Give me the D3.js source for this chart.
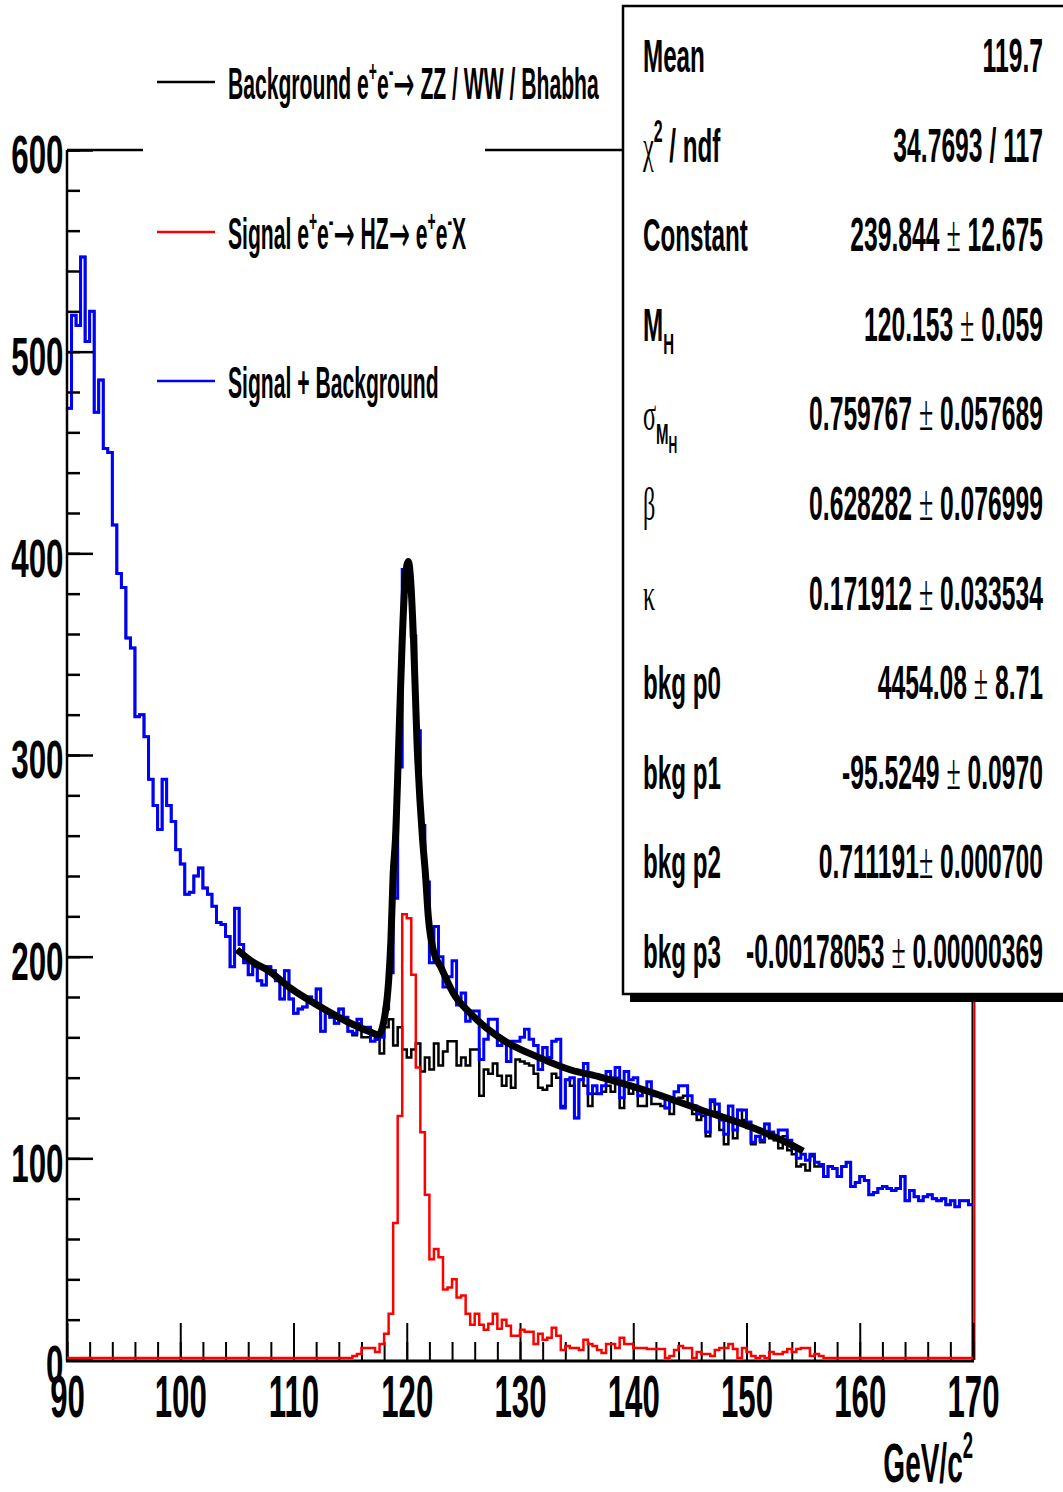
<!DOCTYPE html>
<html><head><meta charset="utf-8">
<script src="https://cdn.jsdelivr.net/npm/d3@7"></script>
<style>body{margin:0;background:#fff}svg{display:block}</style>
</head><body>
<svg id="c" width="1063" height="1492"></svg>
<script>
// ---------------- data ----------------
const binLow = 90, binWidth = 0.4;
// Signal + Background (blue)
const totalCounts = [
472,518,513,547,505,520,470,486,452,450,
414,390,383,358,353,319,320,309,288,275,
263,288,275,267,253,246,231,232,240,244,
234,231,225,217,216,210,195,224,206,197,
191,195,188,186,195,193,188,179,193,179,
172,174,175,180,177,184,163,172,170,167,
174,170,163,162,169,165,165,158,159,160,
174,192,229,294,392,387,359,312,265,237,
197,215,200,185,190,198,176,182,168,173,
173,149,159,169,169,156,158,148,158,158,
160,164,159,156,144,155,150,158,159,125,
139,140,120,139,147,132,136,132,136,143,
140,145,130,143,139,140,131,133,138,131,
131,130,125,128,133,136,136,131,126,122,
123,113,129,127,119,112,126,114,124,124,
118,108,111,109,117,113,111,114,114,109,
105,100,102,99,102,98,97,91,96,95,
91,96,98,86,88,91,89,82,83,85,
86,85,84,85,91,79,84,81,79,81,
82,80,79,80,77,79,76,79,79,77];
// Background e+e- -> ZZ/WW/Bhabha (black)
const bkgCounts = [
472,518,513,547,505,520,470,486,452,450,
414,390,383,358,353,319,320,309,288,275,
263,288,275,267,253,246,231,232,240,244,
234,231,225,217,216,210,195,224,206,197,
191,195,188,186,195,193,188,179,193,179,
172,174,175,180,177,184,163,172,170,167,
174,170,163,161,167,160,160,162,159,152,
165,169,156,165,154,150,154,157,143,150,
144,157,146,153,158,158,146,150,146,154,
154,131,144,142,147,141,136,141,135,149,
148,147,146,142,135,134,136,142,140,126,
139,136,120,139,136,126,132,132,133,136,
133,140,125,136,132,135,126,126,133,127,
127,126,125,122,129,130,131,126,122,119,
121,111,128,123,114,107,119,110,124,119,
115,107,111,108,117,110,109,105,111,104,
102,96,97,94,101,96,96,91,96,95,
91,96,98,86,88,91,89,82,83,85,
86,85,84,85,91,79,84,81,79,81,
82,80,79,80,77,79,76,79,79,77];
// Signal e+e- -> HZ -> e+e-X (red)
const sigCounts = [
0,0,0,0,0,0,0,0,0,0,
0,0,0,0,0,0,0,0,0,0,
0,0,0,0,0,0,0,0,0,0,
0,0,0,0,0,0,0,0,0,0,
0,0,0,0,0,0,0,0,0,0,
0,0,0,0,0,0,0,0,0,0,
0,0,0,1,2,5,5,5,3,7,
12,22,67,120,220,218,190,144,112,81,
49,54,50,34,35,39,30,31,22,16.5,
22,16.5,14,17,22,14.5,19,16,11,11,
14,13,13,7,12,9,10,15,11,4,
6,5,5,4,9,7,6,4,2.5,7,
7,5,10,7,7,5,5,5,4.5,4.5,
4.5,4.5,0,1,4,6,5,5,0,3,
2,2,1,4,5,5,7,4.5,0,5,
3,1,0,1,0,3,2,2,3,4.5,
3,4.5,5,5,1,2,1,0,0,0,
0,0,0,0,0,0,0,0,0,0,
0,0,0,0,0,0,0,0,0,0,
0,0,0,0,0,0,0,0,0,0];
// fitted curve
const fitX = [105.0,106.5,107.7,109.7,112.4,114.8,116.8,117.5,118.1,118.4,118.6,118.8,119.0,119.3,119.6,119.9,120.15,120.3,120.6,120.9,121.4,121.65,121.9,122.35,123.0,124.1,125.6,128.5,131.6,134.5,137.1,138.9,141.5,146.0,150.4,154.5,155.0];
const fitY = [203.5,197,193.4,184.5,175,167.6,162.6,161.2,172,188,208,241,258,307,357,390,396,390,357,307,258,241,220,203,195,182,172,158.7,150.2,143.8,140.3,137.4,132.9,124,115.5,105.1,103.6];

const xTicks = [90,100,110,120,130,140,150,160,170];
const yTicks = [0,100,200,300,400,500,600];
const xTitle = "GeV/c";

const legendLabels = [
  [["Background e"],["+","sup"],["e"],["-","sup"],["→","arrow"],[" ZZ / WW / Bhabha"]],
  [["Signal e"],["+","sup"],["e"],["-","sup"],["→","arrow"],[" HZ"],["→","arrow"],[" e"],["+","sup"],["e"],["-","sup"],["X"]],
  [["Signal + Background"]]
];
const legendKeys = ["bkg","sig","total"];

const statsLabels = [
  [["Mean"]],
  [["χ","greek"],["2","sup"],[" / ndf"]],
  [["Constant"]],
  [["M"],["H","sub"]],
  [["σ","greek"],["M","sub"],["H","subsub"]],
  [["β","greek"]],
  [["κ","greek"]],
  [["bkg p0"]],
  [["bkg p1"]],
  [["bkg p2"]],
  [["bkg p3"]]
];
const statsValues = ["119.7","34.7693 / 117","239.844 ± 12.675","120.153 ± 0.059","0.759767 ± 0.057689",
  "0.628282 ± 0.076999","0.171912 ± 0.033534","4454.08 ± 8.71","-95.5249 ± 0.0970","0.711191± 0.000700",
  "-0.00178053 ± 0.00000369"];

// ---------------- drawing ----------------
const colors = {bkg:"#000000", sig:"#ff0000", total:"#0000ff"};
const FONT = "'Liberation Sans', Arial, Helvetica, sans-serif";
const SERIF = "'Liberation Serif', 'DejaVu Serif', serif";
const svg = d3.select("#c");
const x = d3.scaleLinear().domain([90,170]).range([67,973]);
const y = d3.scaleLinear().domain([0,600]).range([1360,150]);

function histPoints(vals, closed){
  const pts = closed ? [[binLow,0]] : [];
  vals.forEach((v,i)=>{ pts.push([binLow+i*binWidth,v]); pts.push([binLow+(i+1)*binWidth,v]); });
  if(closed) pts.push([binLow+vals.length*binWidth,0]);
  return pts;
}
const hline = d3.line().x(d=>x(d[0])).y(d=>y(d[1]));

// rich text helper
function richText(parent, x0, yb, sx, size, anchor, segs){
  const g = parent.append("g").attr("transform",`translate(${x0},${yb}) scale(${sx},1)`);
  const t = g.append("text").attr("text-anchor",anchor).attr("font-family",FONT)
    .attr("font-weight","bold").attr("font-size",size).attr("fill","#000");
  let cur = 0;
  segs.forEach(s=>{
    const kind = s[1]||"n";
    let off=0, fs=size, fam=FONT, fw="bold";
    if(kind==="sup"){off=-0.42*size; fs=0.66*size;}
    if(kind==="sub"){off=0.28*size; fs=0.62*size;}
    if(kind==="subsub"){off=0.48*size; fs=0.5*size;}
    if(kind==="greek"){fam=SERIF; fw="normal";}
    if(kind==="arrow"){fam="'DejaVu Sans', sans-serif"; fw="normal"; fs=1.2*size; off=0.06*size;}
    if(kind==="pm"){fam=SERIF; fw="normal"; fs=1.05*size;}
    t.append("tspan").attr("dy",off-cur).attr("font-size",fs).attr("font-family",fam)
      .attr("font-weight",fw).text(s[0]);
    cur = off;
  });
  return t;
}

// frame lines (top and right)
svg.append("line").attr("x1",67).attr("x2",973).attr("y1",150).attr("y2",150).attr("stroke","#000").attr("stroke-width",2.5);
svg.append("line").attr("x1",972.5).attr("x2",972.5).attr("y1",150).attr("y2",1360).attr("stroke","#000").attr("stroke-width",2);
svg.append("line").attr("x1",974.5).attr("x2",974.5).attr("y1",150).attr("y2",1360).attr("stroke","#e00000").attr("stroke-width",2);

// histograms
svg.append("path").attr("d",hline(histPoints(bkgCounts,false))).attr("fill","none").attr("stroke",colors.bkg).attr("stroke-width",2.5);
svg.append("path").attr("d",hline(histPoints(totalCounts,false))).attr("fill","none").attr("stroke",colors.total).attr("stroke-width",3);

// axes
const xAxisMinor = d3.axisBottom(x).tickValues(d3.range(90,171,2)).tickSize(-18).tickFormat("");
svg.append("g").attr("transform","translate(0,1360)").call(xAxisMinor)
  .call(g=>{g.select(".domain").remove(); g.selectAll("line").attr("stroke-width",2);});
const xAxis = d3.axisBottom(x).tickValues(xTicks).tickSize(-37).tickPadding(14);
svg.append("g").attr("transform","translate(0,1360)").call(xAxis)
  .call(g=>{g.select(".domain").remove(); g.selectAll("line").attr("stroke-width",2);
    g.selectAll("text").attr("font-family",FONT).attr("font-weight","bold").attr("font-size",60)
     .attr("fill","#000").attr("dy","0.71em").attr("transform","scale(0.52,1)");});
svg.append("line").attr("x1",66).attr("x2",974).attr("y1",1361).attr("y2",1361).attr("stroke","#000").attr("stroke-width",3);

const yAxisMinor = d3.axisLeft(y).tickValues(d3.range(0,601,20)).tickSize(-13).tickFormat("");
svg.append("g").attr("transform","translate(67,0)").call(yAxisMinor)
  .call(g=>{g.select(".domain").remove(); g.selectAll("line").attr("stroke-width",2.5);});
const yAxis = d3.axisLeft(y).tickValues(yTicks).tickSize(-26).tickPadding(6);
svg.append("g").attr("transform","translate(67,0)").call(yAxis)
  .call(g=>{g.select(".domain").attr("stroke-width",2.5).attr("d","M0,150V1361");
    g.selectAll("line").attr("stroke-width",2.5);
    g.selectAll("text").attr("font-family",FONT).attr("font-weight","bold").attr("font-size",54)
     .attr("fill","#000").attr("dy","0.42em").attr("transform","scale(0.58,1)");});

// signal on top
svg.append("path").attr("d",hline(histPoints(sigCounts,true))).attr("fill","none").attr("stroke",colors.sig).attr("stroke-width",2.5).attr("transform","translate(0,-2)");

// fit curve
const fitLine = d3.line().x((d,i)=>x(fitX[i])).y((d,i)=>y(fitY[i])).curve(d3.curveMonotoneX);
svg.append("path").attr("d",fitLine(fitX)).attr("fill","none").attr("stroke","#000").attr("stroke-width",7).attr("stroke-linecap","butt");

// x title
richText(svg, 973, 1482, 0.5, 56, "end", [[xTitle],["2","sup"]]);

// legend
svg.append("rect").attr("x",143).attr("y",30).attr("width",342).attr("height",390).attr("fill","#fff");
const legY = [82,232,381];
legendLabels.forEach((lab,i)=>{
  svg.append("line").attr("x1",157).attr("x2",215).attr("y1",legY[i]).attr("y2",legY[i])
    .attr("stroke",colors[legendKeys[i]]).attr("stroke-width",2.5);
  richText(svg, 228, legY[i]+17, 0.48, 44, "start", lab);
});

// stats box
svg.append("rect").attr("x",630).attr("y",14).attr("width",440).attr("height",988).attr("fill","#000");
svg.append("rect").attr("x",623).attr("y",6).attr("width",445).attr("height",988).attr("fill","#fff").attr("stroke","#000").attr("stroke-width",2.5);
statsLabels.forEach((lab,i)=>{
  const yb = 72 + i*89.6;
  richText(svg, 643, yb, 0.515, 47, "start", lab);
  const v = statsValues[i];
  const parts = v.split("±");
  const segs = parts.length>1 ? [[parts[0]],["±","pm"],[parts[1]]] : [[v]];
  richText(svg, 1043, yb, 0.52, 47.5, "end", segs);
});
</script>
</body></html>
